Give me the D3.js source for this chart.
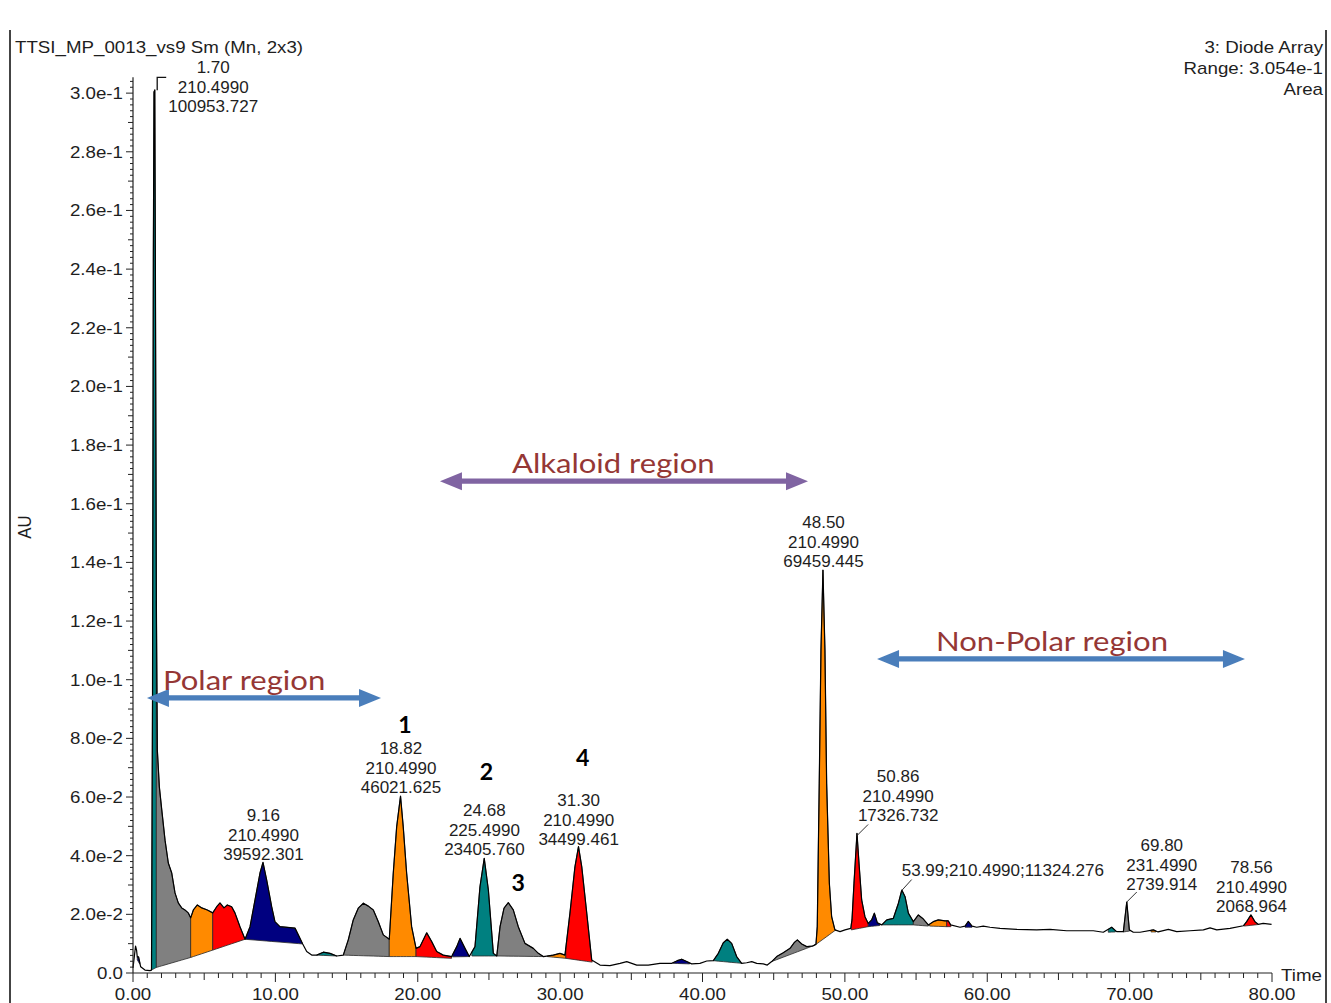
<!DOCTYPE html>
<html>
<head>
<meta charset="utf-8">
<script src="https://cdn.jsdelivr.net/npm/d3@7/dist/d3.min.js"></script>
<style>
  html, body { margin: 0; padding: 0; background: #fff; }
  svg { display: block; }
</style>
</head>
<body>
<div id="chart"></div>
<script>
/* ===================================================================
   Diode-array chromatogram (TTSI_MP_0013) with integrated peaks and
   region arrows. Trace values.
   =================================================================== */
(function () {
  "use strict";

  // --- trace (time in min, absorbance in AU) ---
  var traceTime = [
    0, 0.105, 0.18, 0.25, 0.30, 0.39, 0.54, 0.84, 1.19, 1.30,
    1.37, 1.43, 1.475, 1.53, 1.58, 1.64, 1.71, 1.85, 2.02, 2.25,
    2.48, 2.72, 2.95, 3.18, 3.42, 3.65, 3.88, 4.05, 4.24, 4.52,
    4.83, 5.22, 5.60, 5.88, 6.11, 6.39, 6.62, 6.93, 7.16, 7.52,
    7.87, 8.22, 8.57, 8.92, 9.13, 9.39, 9.74, 9.97, 10.32, 11.38,
    11.61, 11.92, 12.20, 12.55, 12.90, 13.37, 13.84, 14.31, 14.77, 15.12,
    15.47, 15.82, 16.18, 16.53, 16.88, 17.23, 17.58, 18.00, 18.28, 18.52,
    18.79, 18.98, 19.22, 19.57, 19.88, 20.16, 20.63, 20.98, 21.33, 21.79,
    22.38, 22.74, 22.97, 23.32, 23.62, 24.02, 24.37, 24.67, 24.96, 25.31,
    25.55, 25.78, 26.06, 26.36, 26.71, 27.06, 27.53, 28.12, 28.47, 28.82,
    29.52, 29.99, 30.34, 30.69, 31.04, 31.29, 31.52, 31.87, 32.22, 32.80,
    33.50, 34.21, 34.68, 35.38, 36.19, 37.01, 37.84, 38.23, 38.54, 38.89,
    39.24, 39.82, 40.30, 40.76, 41.11, 41.46, 41.74, 42.05, 42.40, 42.75,
    43.10, 43.46, 43.81, 44.27, 44.55, 44.86, 45.21, 45.67, 46.15, 46.43,
    46.66, 46.97, 47.32, 47.74, 47.97, 48.06, 48.20, 48.32, 48.46, 48.60,
    48.72, 48.91, 49.07, 49.30, 49.66, 50.01, 50.41, 50.50, 50.64, 50.85,
    51.01, 51.18, 51.41, 51.64, 51.88, 52.07, 52.28, 52.59, 52.94, 53.40,
    53.76, 54.00, 54.23, 54.46, 54.81, 55.16, 55.47, 55.86, 56.21, 56.56,
    57.03, 57.26, 57.43, 58.09, 58.44, 58.67, 58.93, 59.26, 59.72, 60.19,
    60.90, 62.07, 63.47, 64.41, 65.58, 66.75, 67.45, 68.15, 68.74, 69.09,
    69.56, 69.80, 69.98, 70.26, 70.73, 71.67, 72.00, 72.72, 73.31, 74.24,
    75.18, 75.65, 76.12, 77.05, 77.99, 78.22, 78.52, 78.80, 79.03, 79.38,
    79.97
  ];
  var traceAU = [
    0.0017, 0.0061, 0.0092, 0.0078, 0.0055, 0.0055, 0.0021, 0.0010, 0.0008, 0.0010,
    0.0930, 0.2465, 0.3004, 0.3011, 0.2295, 0.1270, 0.0760, 0.0635, 0.0556, 0.0453,
    0.0375, 0.0341, 0.0273, 0.0239, 0.0222, 0.0215, 0.0205, 0.0188, 0.0215, 0.0232,
    0.0222, 0.0215, 0.0205, 0.0226, 0.0239, 0.0222, 0.0232, 0.0226, 0.0205, 0.0157,
    0.0115, 0.0158, 0.0249, 0.0341, 0.0377, 0.0317, 0.0226, 0.0175, 0.0158, 0.0153,
    0.0130, 0.0099, 0.0073, 0.0061, 0.0061, 0.0071, 0.0067, 0.0058, 0.0061, 0.0113,
    0.0181, 0.0221, 0.0238, 0.0228, 0.0215, 0.0175, 0.0130, 0.0115, 0.0340, 0.0499,
    0.0603, 0.0499, 0.0340, 0.0158, 0.0084, 0.0090, 0.0137, 0.0107, 0.0073, 0.0061,
    0.0056, 0.0090, 0.0118, 0.0084, 0.0056, 0.0090, 0.0294, 0.0391, 0.0283, 0.0067,
    0.0058, 0.0158, 0.0221, 0.0240, 0.0215, 0.0158, 0.0101, 0.0084, 0.0067, 0.0056,
    0.0061, 0.0067, 0.0061, 0.0204, 0.0362, 0.0431, 0.0362, 0.0204, 0.0044, 0.0027,
    0.0025, 0.0033, 0.0039, 0.0027, 0.0027, 0.0033, 0.0033, 0.0042, 0.0047, 0.0039,
    0.0031, 0.0033, 0.0041, 0.0042, 0.0067, 0.0103, 0.0115, 0.0101, 0.0056, 0.0033,
    0.0035, 0.0039, 0.0033, 0.0031, 0.0027, 0.0039, 0.0056, 0.0069, 0.0084, 0.0103,
    0.0113, 0.0099, 0.0090, 0.0092, 0.0098, 0.0158, 0.0647, 0.1101, 0.1374, 0.1101,
    0.0647, 0.0306, 0.0192, 0.0147, 0.0141, 0.0147, 0.0152, 0.0181, 0.0306, 0.0476,
    0.0362, 0.0249, 0.0192, 0.0169, 0.0181, 0.0204, 0.0171, 0.0164, 0.0181, 0.0186,
    0.0238, 0.0283, 0.0260, 0.0204, 0.0175, 0.0198, 0.0186, 0.0164, 0.0175, 0.0181,
    0.0178, 0.0178, 0.0164, 0.0156, 0.0160, 0.0176, 0.0160, 0.0156, 0.0160, 0.0156,
    0.0152, 0.0149, 0.0147, 0.0149, 0.0144, 0.0144, 0.0144, 0.0139, 0.0156, 0.0141,
    0.0141, 0.0242, 0.0147, 0.0139, 0.0139, 0.0147, 0.0140, 0.0149, 0.0141, 0.0144,
    0.0147, 0.0154, 0.0147, 0.0152, 0.0161, 0.0175, 0.0198, 0.0175, 0.0166, 0.0169,
    0.0166
  ];

  // --- integrated peaks: start / end time, baseline AU at each end, fill kind ---
  var peakStart = [0.30, 1.30, 1.64, 4.05, 5.60, 7.87, 12.90, 14.77, 18.00, 19.88,
                   22.45, 23.80, 25.55, 29.10, 30.40, 37.90, 40.76, 44.86, 47.90, 50.45,
                   51.64, 52.60, 54.81, 55.95, 57.15, 58.44, 68.50, 69.56, 71.50, 78.05];
  var peakEnd   = [0.48, 1.64, 4.05, 5.60, 7.87, 11.92, 14.31, 18.00, 19.88, 22.38,
                   23.62, 25.55, 28.82, 30.40, 32.25, 39.10, 42.75, 47.90, 49.37, 51.64,
                   52.45, 54.81, 55.86, 57.15, 57.45, 58.93, 69.00, 70.00, 71.85, 79.00];
  var peakBaseStart = [0.0045, 0.0010, 0.0019, 0.0053, 0.0078, 0.0115, 0.0061, 0.0061, 0.0056, 0.0056,
                       0.0055, 0.0058, 0.0058, 0.0056, 0.0050, 0.0033, 0.0042, 0.0039, 0.0095, 0.0147,
                       0.0158, 0.0164, 0.0164, 0.0160, 0.0158, 0.0156, 0.0139, 0.0140, 0.0140, 0.0160];
  var peakBaseEnd   = [0.0030, 0.0019, 0.0053, 0.0078, 0.0115, 0.0099, 0.0058, 0.0056, 0.0056, 0.0050,
                       0.0056, 0.0058, 0.0056, 0.0050, 0.0037, 0.0031, 0.0033, 0.0095, 0.0147, 0.0158,
                       0.0162, 0.0164, 0.0160, 0.0158, 0.0158, 0.0156, 0.0140, 0.0143, 0.0140, 0.0165];
  var peakKind = ["navy", "teal", "gray", "orange", "red", "navy", "teal", "gray", "orange", "red",
                  "navy", "teal", "gray", "orange", "red", "navy", "teal", "gray", "orange", "red",
                  "navy", "teal", "gray", "orange", "red", "navy", "teal", "gray", "orange", "red"];

  // --- peak annotations (retention time / wavelength / area) ---
  var labelRT   = ["1.70", "9.16", "18.82", "24.68", "31.30", "48.50", "50.86", "53.99", "69.80", "78.56"];
  var labelWL   = ["210.4990", "210.4990", "210.4990", "225.4990", "210.4990", "210.4990", "210.4990", "210.4990", "231.4990", "210.4990"];
  var labelArea = ["100953.727", "39592.301", "46021.625", "23405.760", "34499.461", "69459.445", "17326.732", "11324.276", "2739.914", "2068.964"];

  // numbered compounds (peak time they belong to)
  var compoundNo = ["1", "2", "3", "4"];
  var compoundRT = [18.82, 24.68, 26.36, 31.30];

  // region arrows
  var regionName  = ["Polar region", "Alkaloid region", "Non-Polar region"];
  var regionStart = [0.98, 21.56, 52.26];
  var regionEnd   = [17.42, 47.41, 78.10];
  var regionLevel = [0.0938, 0.1677, 0.1071];

  var xTicks = [0, 10, 20, 30, 40, 50, 60, 70, 80];
  var yTicks = [0, 0.02, 0.04, 0.06, 0.08, 0.10, 0.12, 0.14, 0.16, 0.18, 0.20, 0.22, 0.24, 0.26, 0.28, 0.30];

  // ------------------------------------------------------------------
  var W = 1331, H = 1003;
  var SX = 1.17;               // original is stretched horizontally
  var SX_LAB = 1.065;          // peak labels are narrower
  var FONT = "'Liberation Sans', Arial, sans-serif";
  var INK = "#1e1e1e";
  var FILL = { gray: "#808080", teal: "#008080", orange: "#ff8a00", red: "#ff0000", navy: "#000080" };

  var x = d3.scaleLinear().domain([0, 80]).range([133, 1272]);
  var y = d3.scaleLinear().domain([0, 0.3054]).range([973, 77.3]);

  var svg = d3.select("#chart").append("svg")
    .attr("width", W).attr("height", H)
    .attr("viewBox", "0 0 " + W + " " + H);
  svg.append("rect").attr("width", W).attr("height", H).attr("fill", "#fff");

  // frame sides
  svg.append("line").attr("x1", 10).attr("x2", 10).attr("y1", 30).attr("y2", H)
    .attr("stroke", "#444").attr("stroke-width", 2);
  svg.append("line").attr("x1", 1326).attr("x2", 1326).attr("y1", 30).attr("y2", H)
    .attr("stroke", "#444").attr("stroke-width", 2);

  // stretched text helper
  function txt(g, px, py, str, opts) {
    opts = opts || {};
    return g.append("text")
      .attr("transform", "translate(" + px + "," + py + ") scale(" + (opts.sx || SX) + ",1)")
      .attr("text-anchor", opts.anchor || "middle")
      .attr("font-family", opts.font || FONT)
      .attr("font-size", opts.size || 16)
      .attr("font-weight", opts.weight || "normal")
      .attr("fill", opts.fill || INK)
      .text(str);
  }

  // trace value at t (linear between read points)
  function traceAt(t) {
    var i = d3.bisectRight(traceTime, t);
    if (i <= 0) return traceAU[0];
    if (i >= traceTime.length) return traceAU[traceAU.length - 1];
    var t0 = traceTime[i - 1], t1 = traceTime[i];
    var f = (t - t0) / (t1 - t0);
    return traceAU[i - 1] + f * (traceAU[i] - traceAU[i - 1]);
  }

  // --- peak fills ---
  var gPeaks = svg.append("g");
  peakStart.forEach(function (s, k) {
    var e = peakEnd[k], b0 = peakBaseStart[k], b1 = peakBaseEnd[k];
    var pts = [[s, traceAt(s)]];
    traceTime.forEach(function (t, i) { if (t > s && t < e) pts.push([t, traceAU[i]]); });
    pts.push([e, traceAt(e)]);
    var base = function (t) { return b0 + (b1 - b0) * (t - s) / (e - s); };
    var area = d3.area()
      .x(function (d) { return x(d[0]); })
      .y0(function (d) { return y(base(d[0])); })
      .y1(function (d) { return y(d[1]); });
    gPeaks.append("path").attr("d", area(pts))
      .attr("fill", FILL[peakKind[k]])
      .attr("stroke", "#2a2a2a").attr("stroke-width", 0.8)
      .attr("stroke-linejoin", "round");
  });

  // --- trace line ---
  var line = d3.line()
    .x(function (d, i) { return x(traceTime[i]); })
    .y(function (d) { return y(d); });
  svg.append("path").attr("d", line(traceAU))
    .attr("fill", "none").attr("stroke", "#000").attr("stroke-width", 1.2)
    .attr("stroke-linejoin", "round");

  // --- axes ---
  var gAx = svg.append("g").attr("stroke", "#222").attr("stroke-width", 1.2);
  gAx.append("line").attr("x1", x(0)).attr("x2", x(0)).attr("y1", y(0.3054)).attr("y2", y(0));
  gAx.append("line").attr("x1", x(0)).attr("x2", x(80)).attr("y1", y(0)).attr("y2", y(0));

  // y ticks: every 0.002, longer at 0.01, labelled at 0.02
  d3.range(0, 153).forEach(function (i) {
    var v = i * 0.002;
    var len = (i % 10 === 0) ? 7 : (i % 5 === 0 ? 5 : 3);
    gAx.append("line").attr("x1", x(0) - len).attr("x2", x(0))
      .attr("y1", y(v)).attr("y2", y(v)).attr("stroke-width", 1);
  });
  var fmtY = d3.format(".1e");
  yTicks.forEach(function (v) {
    txt(svg, x(0) - 10, y(v) + 6, v === 0 ? "0.0" : fmtY(v), { anchor: "end" });
  });

  // x ticks: every minute, longer at 5 and 10
  d3.range(0, 81).forEach(function (m) {
    var len = (m % 10 === 0) ? 9 : (m % 5 === 0 ? 7 : 5);
    gAx.append("line").attr("x1", x(m)).attr("x2", x(m))
      .attr("y1", y(0)).attr("y2", y(0) + len).attr("stroke-width", 1);
  });
  var fmtX = d3.format(".2f");
  xTicks.forEach(function (m) { txt(svg, x(m), 1000, fmtX(m)); });

  // axis titles and header
  svg.append("text")
    .attr("transform", "translate(31,527) rotate(-90) scale(1.05,1.2)")
    .attr("text-anchor", "middle").attr("font-family", FONT).attr("font-size", 16)
    .attr("fill", INK).text("AU");
  txt(svg, 1281, 981, "Time", { anchor: "start" });
  txt(svg, 15, 53, "TTSI_MP_0013_vs9 Sm (Mn, 2x3)", { anchor: "start" });
  txt(svg, 1323, 53, "3: Diode Array", { anchor: "end" });
  txt(svg, 1323, 74, "Range: 3.054e-1", { anchor: "end" });
  txt(svg, 1323, 95, "Area", { anchor: "end" });

  // --- peak annotations ---
  // placement: x offset from the peak, baseline of the first line, leader (optional)
  var place = [
    { dx: 56, top: 73 },
    { dx: 0, top: 821 },
    { dx: 0, top: 754 },
    { dx: 0, top: 816 },
    { dx: 0, top: 806 },
    { dx: 0, top: 528 },
    { dx: 41, top: 782, lead: [11, -11] },
    { dx: 0, top: 876, single: true, lead: [10, -11] },
    { dx: 35, top: 851, lead: [10, -10] },
    { dx: 0, top: 873 }
  ];
  var gLab = svg.append("g");
  labelRT.forEach(function (rt, k) {
    var p = place[k], px = x(+rt), o = { sx: SX_LAB };
    if (p.single) {
      txt(gLab, px, p.top, rt + ";" + labelWL[k] + ";" + labelArea[k], { sx: SX_LAB, anchor: "start" });
    } else {
      txt(gLab, px + p.dx, p.top, rt, o);
      txt(gLab, px + p.dx, p.top + 19.5, labelWL[k], o);
      txt(gLab, px + p.dx, p.top + 39, labelArea[k], o);
    }
    if (p.lead) {
      var py = y(traceAt(+rt));
      gLab.append("line").attr("x1", px).attr("y1", py)
        .attr("x2", px + p.lead[0]).attr("y2", py + p.lead[1])
        .attr("stroke", "#333").attr("stroke-width", 1);
    }
  });
  // bracket marker over the solvent-front peak
  gLab.append("polyline")
    .attr("points", [[x(1.70) + 9, y(0.3054)], [x(1.70), y(0.3054)], [x(1.70), y(0.301)]].join(" "))
    .attr("fill", "none").attr("stroke", "#111").attr("stroke-width", 1.3);

  // numbered compounds
  var numPlace = [{ dx: 4, dy: -68 }, { dx: 2, dy: -79 }, { dx: 10, dy: -12 }, { dx: 4, dy: -81 }];
  compoundNo.forEach(function (n, k) {
    var t = compoundRT[k];
    txt(svg, x(t) + numPlace[k].dx, y(traceAt(t)) + numPlace[k].dy, n,
      { font: "Lato, sans-serif", size: 22, weight: "bold", sx: 1.05, fill: "#000" });
  });

  // --- region arrows ---
  var ARROW = ["#4a7ebb", "#8064a2", "#4a7ebb"];
  var textOff = [16, 72, 59];
  regionName.forEach(function (name, k) {
    var xa = x(regionStart[k]), xb = x(regionEnd[k]), yc = y(regionLevel[k]);
    var hl = 22, hw = 9, sw = 2.6;
    var pts = [
      [xa, yc], [xa + hl, yc - hw], [xa + hl, yc - sw], [xb - hl, yc - sw], [xb - hl, yc - hw],
      [xb, yc], [xb - hl, yc + hw], [xb - hl, yc + sw], [xa + hl, yc + sw], [xa + hl, yc + hw]
    ];
    svg.append("polygon").attr("points", pts.join(" ")).attr("fill", ARROW[k]);
    txt(svg, xa + textOff[k], yc - 8, name,
      { anchor: "start", font: "Lato, sans-serif", size: 27, sx: 1.15, fill: "#953735" });
  });
})();
</script>
</body>
</html>
